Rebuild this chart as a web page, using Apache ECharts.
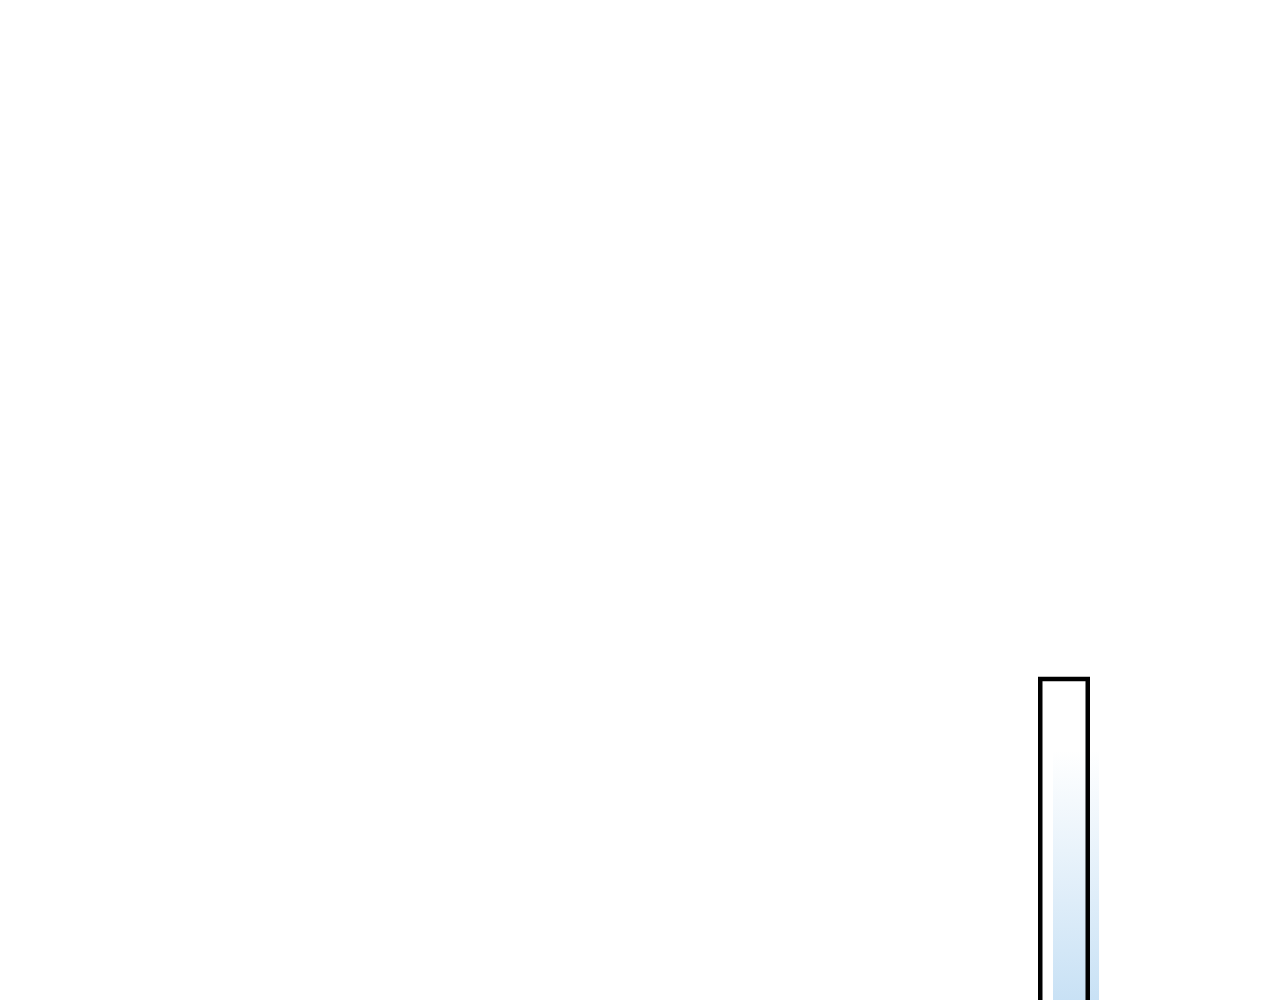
<!DOCTYPE html>
<html>
<head>
<meta charset="utf-8">
<script src="https://cdn.jsdelivr.net/npm/echarts@6/dist/echarts.min.js"></script>
<style>html,body{margin:0;padding:0;background:#fff}#c{width:1280px;height:1000px}</style>
</head>
<body>
<div id="c"></div>
<script>
var categories = ['A'];
var outlineValues = [43.6];
var fillValues = [43.6];

var chart = echarts.init(document.getElementById('c'), null, {renderer: 'canvas'});
chart.setOption({
  animation: false,
  backgroundColor: '#ffffff',
  grid: [
    {left: 1014, width: 100, top: 0, height: 1200, outerBoundsMode: 'none', containLabel: false},
    {left: 1026, width: 100, top: 0, height: 1200, outerBoundsMode: 'none', containLabel: false}
  ],
  xAxis: [
    {type: 'category', data: categories, gridIndex: 0, show: false},
    {type: 'category', data: categories, gridIndex: 1, show: false}
  ],
  yAxis: [
    {type: 'value', min: 0, max: 100, gridIndex: 0, show: false},
    {type: 'value', min: 0, max: 100, gridIndex: 1, show: false}
  ],
  series: [
    {
      type: 'bar', xAxisIndex: 1, yAxisIndex: 1, data: fillValues, barWidth: 46,
      itemStyle: {
        color: new echarts.graphic.LinearGradient(0, 0, 0, 1, [
          {offset: 0, color: 'rgba(200,225,245,0)'},
          {offset: 0.14, color: 'rgba(200,225,245,0)'},
          {offset: 0.62, color: 'rgba(200,225,245,1)'},
          {offset: 1, color: 'rgba(180,212,238,1)'}
        ])
      }
    },
    {
      type: 'bar', xAxisIndex: 0, yAxisIndex: 0, data: outlineValues, barWidth: 52,
      itemStyle: {color: 'rgba(0,0,0,0)', borderColor: '#000', borderWidth: 4.5}
    }
  ]
});
</script>
</body>
</html>
